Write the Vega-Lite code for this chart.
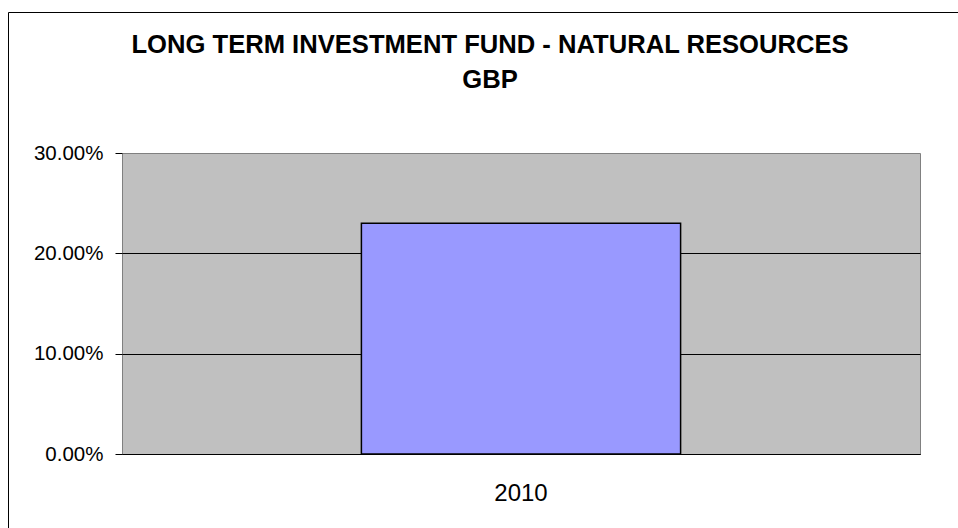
{
  "$schema": "https://vega.github.io/schema/vega-lite/v6.json",
  "width": 798,
  "height": 301,
  "autosize": "none",
  "padding": {"left": 122, "top": 153, "right": 38, "bottom": 74},
  "background": "white",
  "title": {
    "text": ["LONG TERM INVESTMENT FUND - NATURAL RESOURCES", "GBP"],
    "font": "Liberation Sans",
    "fontSize": 25.6,
    "fontWeight": "bold",
    "color": "black",
    "anchor": "middle",
    "frame": "group",
    "dx": -31,
    "lineHeight": 35,
    "offset": -82
  },
  "data": {"values": [{"year": "2010", "return": 0.23}]},
  "mark": {"type": "bar", "fill": "#9999FF", "strokeWidth": 1.5, "width": {"band": 0.4}},
  "encoding": {
    "x": {
      "field": "year",
      "type": "nominal",
      "scale": {"paddingInner": 0, "paddingOuter": 0},
      "axis": {
        "title": null,
        "domain": true,
        "domainColor": "black",
        "domainWidth": 1,
        "ticks": false,
        "labelAngle": 0,
        "labelFont": "Liberation Sans",
        "labelFontSize": 24,
        "labelColor": "black",
        "labelPadding": 27
      }
    },
    "y": {
      "field": "return",
      "type": "quantitative",
      "scale": {"domain": [0, 0.3], "nice": false},
      "axis": {
        "title": null,
        "values": [0, 0.1, 0.2, 0.3],
        "format": ".2%",
        "domain": false,
        "tickColor": "black",
        "tickSize": 7,
        "labelFont": "Liberation Sans",
        "labelFontSize": 20.5,
        "labelColor": "black",
        "labelPadding": 12,
        "grid": true,
        "gridColor": {"condition": {"test": "datum.value >= 0.29", "value": "transparent"}, "value": "black"},
        "gridWidth": 1
      }
    },
    "stroke": {
      "datum": "frame",
      "scale": {"range": ["black"]},
      "legend": {
        "orient": "none",
        "legendX": -114,
        "legendY": -141,
        "padding": 700,
        "strokeColor": "black",
        "title": null,
        "symbolOpacity": 0,
        "labelExpr": "''",
        "labelOpacity": 0
      }
    }
  },
  "config": {"view": {"fill": "#C0C0C0", "stroke": "#808080"}}
}
